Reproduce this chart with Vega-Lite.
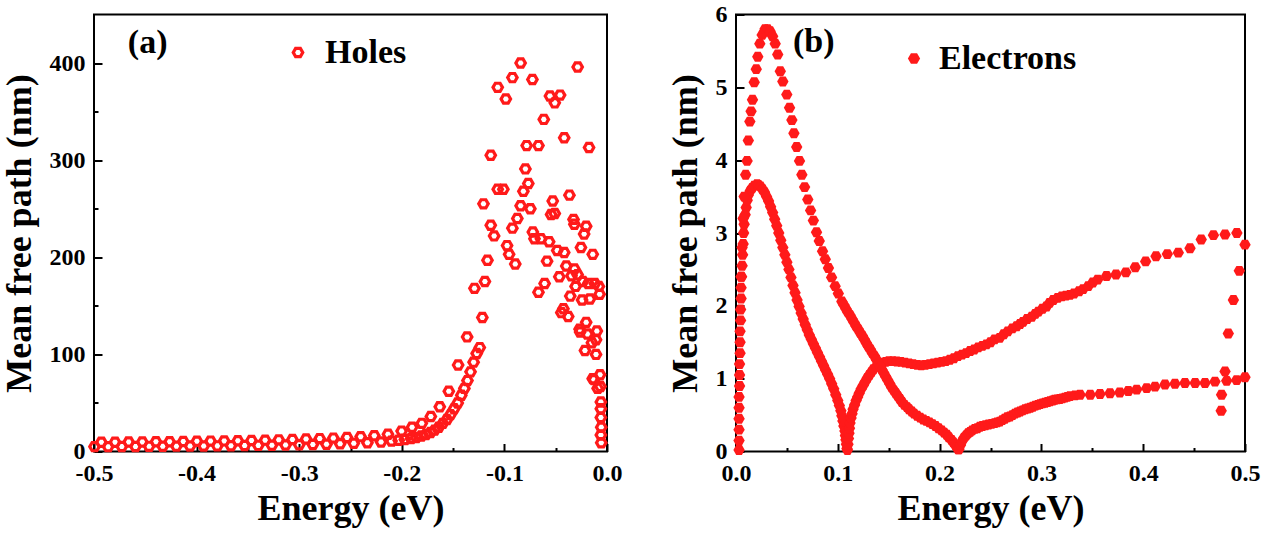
{
  "$schema": "https://vega.github.io/schema/vega-lite/v6.json",
  "padding": {"top": 1.5, "left": 0, "right": 0, "bottom": 0},
  "background": "white",
  "bounds": "flush",
  "spacing": 129,
  "config": {
    "view": {"stroke": "black", "strokeWidth": 2},
    "axis": {
      "domain": false, "grid": false, "tickColor": "black", "tickWidth": 2,
      "labelFont": "Liberation Serif", "labelFontWeight": "bold", "labelFontSize": 24, "labelColor": "black",
      "titleFont": "Liberation Serif", "titleFontWeight": "bold", "titleFontSize": 36, "titleColor": "black"
    },
    "legend": {
      "title": null, "orient": "none", "padding": 0,
      "labelFont": "Liberation Serif", "labelFontSize": 34, "labelFontWeight": "bold", "labelColor": "black"
    }
  },
  "resolve": {"scale": {"color": "independent"}, "legend": {"color": "independent"}},
  "datasets": {
    "holes": [
      {"E": -0.4928, "mfp": 9.5}, {"E": -0.4795, "mfp": 9.6}, {"E": -0.4662, "mfp": 9.7}, {"E": -0.4529, "mfp": 9.8},
      {"E": -0.4396, "mfp": 10}, {"E": -0.4263, "mfp": 10.1}, {"E": -0.413, "mfp": 10.3}, {"E": -0.3997, "mfp": 10.5},
      {"E": -0.3864, "mfp": 10.7}, {"E": -0.3731, "mfp": 10.9}, {"E": -0.3598, "mfp": 11.1}, {"E": -0.3465, "mfp": 11.4},
      {"E": -0.3332, "mfp": 11.7}, {"E": -0.3199, "mfp": 12}, {"E": -0.3066, "mfp": 12.4}, {"E": -0.2933, "mfp": 12.8},
      {"E": -0.28, "mfp": 13.3}, {"E": -0.2667, "mfp": 13.8}, {"E": -0.2534, "mfp": 14.5}, {"E": -0.2401, "mfp": 15.3},
      {"E": -0.2268, "mfp": 16.3}, {"E": -0.2135, "mfp": 17.8}, {"E": -0.2002, "mfp": 21}, {"E": -0.19, "mfp": 25},
      {"E": -0.1805, "mfp": 29}, {"E": -0.1717, "mfp": 36}, {"E": -0.163, "mfp": 46}, {"E": -0.1542, "mfp": 62},
      {"E": -0.1451, "mfp": 89}, {"E": -0.1363, "mfp": 118}, {"E": -0.1292, "mfp": 168}, {"E": -0.1204, "mfp": 255},
      {"E": -0.1133, "mfp": 305}, {"E": -0.1065, "mfp": 375},
      {"E": -0.4995, "mfp": 5}, {"E": -0.4862, "mfp": 5}, {"E": -0.4729, "mfp": 5.1}, {"E": -0.4596, "mfp": 5.2},
      {"E": -0.4463, "mfp": 5.3}, {"E": -0.433, "mfp": 5.4}, {"E": -0.4197, "mfp": 5.5}, {"E": -0.4064, "mfp": 5.6},
      {"E": -0.3931, "mfp": 5.7}, {"E": -0.3798, "mfp": 5.8}, {"E": -0.3665, "mfp": 6}, {"E": -0.3532, "mfp": 6.1},
      {"E": -0.3399, "mfp": 6.3}, {"E": -0.3266, "mfp": 6.5}, {"E": -0.3133, "mfp": 6.7}, {"E": -0.3, "mfp": 6.9},
      {"E": -0.2867, "mfp": 7.2}, {"E": -0.2734, "mfp": 7.5}, {"E": -0.2601, "mfp": 7.9}, {"E": -0.2468, "mfp": 8.4},
      {"E": -0.2335, "mfp": 9}, {"E": -0.2202, "mfp": 9.8}, {"E": -0.21, "mfp": 10.7}, {"E": -0.203, "mfp": 11.5},
      {"E": -0.197, "mfp": 12.3}, {"E": -0.191, "mfp": 13.3}, {"E": -0.186, "mfp": 14.5}, {"E": -0.181, "mfp": 16},
      {"E": -0.1765, "mfp": 17.5}, {"E": -0.172, "mfp": 19.5}, {"E": -0.168, "mfp": 22}, {"E": -0.164, "mfp": 25},
      {"E": -0.16, "mfp": 29}, {"E": -0.156, "mfp": 33}, {"E": -0.1525, "mfp": 38}, {"E": -0.149, "mfp": 44},
      {"E": -0.1455, "mfp": 50}, {"E": -0.142, "mfp": 58}, {"E": -0.139, "mfp": 65}, {"E": -0.136, "mfp": 73},
      {"E": -0.133, "mfp": 82}, {"E": -0.13, "mfp": 92}, {"E": -0.127, "mfp": 101}, {"E": -0.124, "mfp": 107},
      {"E": -0.1215, "mfp": 138}, {"E": -0.119, "mfp": 175}, {"E": -0.1165, "mfp": 197},
      {"E": -0.1133, "mfp": 233}, {"E": -0.11, "mfp": 222}, {"E": -0.1065, "mfp": 270}, {"E": -0.101, "mfp": 270},
      {"E": -0.0986, "mfp": 363}, {"E": -0.0974, "mfp": 212}, {"E": -0.0954, "mfp": 203}, {"E": -0.0922, "mfp": 385},
      {"E": -0.0922, "mfp": 230}, {"E": -0.0894, "mfp": 193}, {"E": -0.0874, "mfp": 240}, {"E": -0.0842, "mfp": 400},
      {"E": -0.0842, "mfp": 253}, {"E": -0.0815, "mfp": 268}, {"E": -0.0795, "mfp": 291}, {"E": -0.0783, "mfp": 315},
      {"E": -0.0767, "mfp": 276}, {"E": -0.0747, "mfp": 250}, {"E": -0.0727, "mfp": 383}, {"E": -0.0723, "mfp": 226},
      {"E": -0.0707, "mfp": 219}, {"E": -0.0668, "mfp": 315}, {"E": -0.0668, "mfp": 164}, {"E": -0.0644, "mfp": 219},
      {"E": -0.0616, "mfp": 342}, {"E": -0.0608, "mfp": 173}, {"E": -0.0584, "mfp": 196}, {"E": -0.0564, "mfp": 216},
      {"E": -0.0556, "mfp": 366}, {"E": -0.0545, "mfp": 244}, {"E": -0.0529, "mfp": 258}, {"E": -0.0509, "mfp": 359},
      {"E": -0.0509, "mfp": 245}, {"E": -0.0485, "mfp": 207}, {"E": -0.0465, "mfp": 180}, {"E": -0.0457, "mfp": 367},
      {"E": -0.0445, "mfp": 143}, {"E": -0.0425, "mfp": 147}, {"E": -0.0417, "mfp": 323}, {"E": -0.0417, "mfp": 205},
      {"E": -0.0397, "mfp": 191}, {"E": -0.0378, "mfp": 139}, {"E": -0.0366, "mfp": 264}, {"E": -0.0358, "mfp": 160},
      {"E": -0.0346, "mfp": 181}, {"E": -0.0326, "mfp": 239}, {"E": -0.0318, "mfp": 234}, {"E": -0.0318, "mfp": 188},
      {"E": -0.0306, "mfp": 170}, {"E": -0.0286, "mfp": 396}, {"E": -0.0286, "mfp": 182}, {"E": -0.0267, "mfp": 126},
      {"E": -0.0262, "mfp": 123}, {"E": -0.0254, "mfp": 210}, {"E": -0.0243, "mfp": 156}, {"E": -0.0235, "mfp": 175},
      {"E": -0.0223, "mfp": 224}, {"E": -0.0215, "mfp": 104}, {"E": -0.0203, "mfp": 133}, {"E": -0.0203, "mfp": 232},
      {"E": -0.0191, "mfp": 121}, {"E": -0.0183, "mfp": 173}, {"E": -0.0175, "mfp": 313}, {"E": -0.0167, "mfp": 157},
      {"E": -0.0147, "mfp": 112}, {"E": -0.0139, "mfp": 203}, {"E": -0.0139, "mfp": 75}, {"E": -0.0127, "mfp": 74},
      {"E": -0.0119, "mfp": 173}, {"E": -0.0107, "mfp": 115}, {"E": -0.0107, "mfp": 100}, {"E": -0.0099, "mfp": 124},
      {"E": -0.0091, "mfp": 65}, {"E": -0.0079, "mfp": 170}, {"E": -0.0072, "mfp": 162}, {"E": -0.0068, "mfp": 79},
      {"E": -0.0064, "mfp": 67}, {"E": -0.006, "mfp": 51}, {"E": -0.006, "mfp": 44}, {"E": -0.006, "mfp": 35},
      {"E": -0.006, "mfp": 17}, {"E": -0.0056, "mfp": 25}, {"E": -0.0056, "mfp": 9}
    ],
    "electrons": [
      {"E": 0.003, "mfp": 0.02}, {"E": 0.003, "mfp": 0.15}, {"E": 0.003, "mfp": 0.3}, {"E": 0.003, "mfp": 0.45},
      {"E": 0.003, "mfp": 0.6}, {"E": 0.003, "mfp": 0.75}, {"E": 0.0035, "mfp": 0.9}, {"E": 0.0035, "mfp": 1.05},
      {"E": 0.0035, "mfp": 1.2}, {"E": 0.004, "mfp": 1.35}, {"E": 0.004, "mfp": 1.5}, {"E": 0.004, "mfp": 1.65},
      {"E": 0.0045, "mfp": 1.8}, {"E": 0.0045, "mfp": 1.95}, {"E": 0.005, "mfp": 2.1}, {"E": 0.005, "mfp": 2.25},
      {"E": 0.0055, "mfp": 2.4}, {"E": 0.006, "mfp": 2.55}, {"E": 0.0065, "mfp": 2.7}, {"E": 0.007, "mfp": 2.85},
      {"E": 0.0075, "mfp": 3.0}, {"E": 0.008, "mfp": 3.12}, {"E": 0.009, "mfp": 3.25}, {"E": 0.01, "mfp": 3.35},
      {"E": 0.011, "mfp": 3.45}, {"E": 0.012, "mfp": 3.52}, {"E": 0.014, "mfp": 3.58}, {"E": 0.016, "mfp": 3.62},
      {"E": 0.018, "mfp": 3.65}, {"E": 0.0207, "mfp": 3.67},
      {"E": 0.022, "mfp": 3.66}, {"E": 0.024, "mfp": 3.64}, {"E": 0.026, "mfp": 3.6}, {"E": 0.028, "mfp": 3.56},
      {"E": 0.03, "mfp": 3.5}, {"E": 0.032, "mfp": 3.44}, {"E": 0.034, "mfp": 3.36}, {"E": 0.036, "mfp": 3.28},
      {"E": 0.038, "mfp": 3.19}, {"E": 0.04, "mfp": 3.1}, {"E": 0.042, "mfp": 3.0}, {"E": 0.044, "mfp": 2.9},
      {"E": 0.046, "mfp": 2.8}, {"E": 0.048, "mfp": 2.7}, {"E": 0.05, "mfp": 2.6}, {"E": 0.052, "mfp": 2.5},
      {"E": 0.054, "mfp": 2.39}, {"E": 0.056, "mfp": 2.28}, {"E": 0.058, "mfp": 2.18}, {"E": 0.06, "mfp": 2.08},
      {"E": 0.062, "mfp": 1.99}, {"E": 0.064, "mfp": 1.9}, {"E": 0.066, "mfp": 1.82}, {"E": 0.068, "mfp": 1.74},
      {"E": 0.07, "mfp": 1.67}, {"E": 0.072, "mfp": 1.6}, {"E": 0.074, "mfp": 1.54}, {"E": 0.076, "mfp": 1.48},
      {"E": 0.078, "mfp": 1.42}, {"E": 0.08, "mfp": 1.36}, {"E": 0.082, "mfp": 1.3}, {"E": 0.084, "mfp": 1.24},
      {"E": 0.086, "mfp": 1.18}, {"E": 0.088, "mfp": 1.12}, {"E": 0.09, "mfp": 1.06}, {"E": 0.092, "mfp": 1.0},
      {"E": 0.094, "mfp": 0.93}, {"E": 0.096, "mfp": 0.86}, {"E": 0.098, "mfp": 0.78}, {"E": 0.1, "mfp": 0.7},
      {"E": 0.1015, "mfp": 0.63}, {"E": 0.103, "mfp": 0.56}, {"E": 0.104, "mfp": 0.49}, {"E": 0.105, "mfp": 0.42},
      {"E": 0.106, "mfp": 0.35}, {"E": 0.107, "mfp": 0.28}, {"E": 0.1075, "mfp": 0.22}, {"E": 0.108, "mfp": 0.16},
      {"E": 0.1085, "mfp": 0.1}, {"E": 0.109, "mfp": 0.04},
      {"E": 0.1095, "mfp": 0.02}, {"E": 0.11, "mfp": 0.1}, {"E": 0.1105, "mfp": 0.18}, {"E": 0.111, "mfp": 0.25},
      {"E": 0.1115, "mfp": 0.32}, {"E": 0.112, "mfp": 0.39}, {"E": 0.113, "mfp": 0.46}, {"E": 0.114, "mfp": 0.52},
      {"E": 0.115, "mfp": 0.58}, {"E": 0.1165, "mfp": 0.64}, {"E": 0.118, "mfp": 0.7}, {"E": 0.1195, "mfp": 0.75},
      {"E": 0.121, "mfp": 0.8}, {"E": 0.123, "mfp": 0.86}, {"E": 0.125, "mfp": 0.91}, {"E": 0.127, "mfp": 0.96},
      {"E": 0.129, "mfp": 1.01}, {"E": 0.131, "mfp": 1.05}, {"E": 0.133, "mfp": 1.09}, {"E": 0.135, "mfp": 1.13},
      {"E": 0.138, "mfp": 1.17}, {"E": 0.141, "mfp": 1.2}, {"E": 0.144, "mfp": 1.22}, {"E": 0.147, "mfp": 1.23},
      {"E": 0.15, "mfp": 1.24}, {"E": 0.154, "mfp": 1.24}, {"E": 0.158, "mfp": 1.235}, {"E": 0.162, "mfp": 1.23},
      {"E": 0.166, "mfp": 1.22}, {"E": 0.17, "mfp": 1.21}, {"E": 0.174, "mfp": 1.2}, {"E": 0.178, "mfp": 1.19},
      {"E": 0.182, "mfp": 1.185}, {"E": 0.186, "mfp": 1.19}, {"E": 0.19, "mfp": 1.2}, {"E": 0.194, "mfp": 1.21},
      {"E": 0.198, "mfp": 1.22}, {"E": 0.202, "mfp": 1.23}, {"E": 0.206, "mfp": 1.24}, {"E": 0.21, "mfp": 1.26},
      {"E": 0.214, "mfp": 1.28}, {"E": 0.218, "mfp": 1.31}, {"E": 0.222, "mfp": 1.33}, {"E": 0.226, "mfp": 1.35},
      {"E": 0.23, "mfp": 1.38}, {"E": 0.234, "mfp": 1.4}, {"E": 0.238, "mfp": 1.43}, {"E": 0.242, "mfp": 1.45},
      {"E": 0.246, "mfp": 1.47}, {"E": 0.25, "mfp": 1.5}, {"E": 0.254, "mfp": 1.54}, {"E": 0.259, "mfp": 1.56},
      {"E": 0.263, "mfp": 1.61}, {"E": 0.267, "mfp": 1.65}, {"E": 0.2715, "mfp": 1.69}, {"E": 0.2757, "mfp": 1.72},
      {"E": 0.279, "mfp": 1.75}, {"E": 0.282, "mfp": 1.78}, {"E": 0.286, "mfp": 1.82}, {"E": 0.2905, "mfp": 1.85},
      {"E": 0.294, "mfp": 1.89}, {"E": 0.297, "mfp": 1.92}, {"E": 0.301, "mfp": 1.96}, {"E": 0.305, "mfp": 1.99},
      {"E": 0.308, "mfp": 2.04}, {"E": 0.3117, "mfp": 2.08}, {"E": 0.316, "mfp": 2.11}, {"E": 0.32, "mfp": 2.13},
      {"E": 0.324, "mfp": 2.14}, {"E": 0.328, "mfp": 2.15}, {"E": 0.332, "mfp": 2.17}, {"E": 0.337, "mfp": 2.2},
      {"E": 0.341, "mfp": 2.23}, {"E": 0.346, "mfp": 2.27}, {"E": 0.3505, "mfp": 2.32}, {"E": 0.3553, "mfp": 2.36},
      {"E": 0.364, "mfp": 2.41}, {"E": 0.3733, "mfp": 2.43}, {"E": 0.383, "mfp": 2.46}, {"E": 0.3922, "mfp": 2.53},
      {"E": 0.4024, "mfp": 2.61}, {"E": 0.4126, "mfp": 2.68}, {"E": 0.4237, "mfp": 2.71}, {"E": 0.4345, "mfp": 2.73},
      {"E": 0.446, "mfp": 2.79}, {"E": 0.457, "mfp": 2.91}, {"E": 0.469, "mfp": 2.97}, {"E": 0.4804, "mfp": 2.98},
      {"E": 0.492, "mfp": 3.0}, {"E": 0.5, "mfp": 2.84},
      {"E": 0.4944, "mfp": 2.48}, {"E": 0.4886, "mfp": 2.08}, {"E": 0.4836, "mfp": 1.62}, {"E": 0.4804, "mfp": 1.1},
      {"E": 0.482, "mfp": 0.97}, {"E": 0.477, "mfp": 0.78}, {"E": 0.4766, "mfp": 0.56},
      {"E": 0.005, "mfp": 2.4}, {"E": 0.006, "mfp": 2.8}, {"E": 0.007, "mfp": 3.2}, {"E": 0.008, "mfp": 3.5},
      {"E": 0.0095, "mfp": 3.8}, {"E": 0.0109, "mfp": 3.99}, {"E": 0.0121, "mfp": 4.27}, {"E": 0.0136, "mfp": 4.53},
      {"E": 0.0148, "mfp": 4.67}, {"E": 0.0162, "mfp": 4.83}, {"E": 0.0179, "mfp": 5.07}, {"E": 0.0199, "mfp": 5.25},
      {"E": 0.0214, "mfp": 5.42}, {"E": 0.0234, "mfp": 5.6}, {"E": 0.0257, "mfp": 5.72}, {"E": 0.0285, "mfp": 5.8},
      {"E": 0.031, "mfp": 5.8}, {"E": 0.0335, "mfp": 5.77}, {"E": 0.036, "mfp": 5.7}, {"E": 0.0385, "mfp": 5.6},
      {"E": 0.041, "mfp": 5.45}, {"E": 0.0435, "mfp": 5.22}, {"E": 0.046, "mfp": 5.08}, {"E": 0.0499, "mfp": 4.9},
      {"E": 0.0526, "mfp": 4.72}, {"E": 0.0549, "mfp": 4.55}, {"E": 0.0569, "mfp": 4.37}, {"E": 0.0596, "mfp": 4.18},
      {"E": 0.0624, "mfp": 3.99}, {"E": 0.0647, "mfp": 3.8}, {"E": 0.0674, "mfp": 3.63}, {"E": 0.0705, "mfp": 3.46},
      {"E": 0.0733, "mfp": 3.31}, {"E": 0.076, "mfp": 3.17}, {"E": 0.0791, "mfp": 3.01}, {"E": 0.0818, "mfp": 2.89},
      {"E": 0.085, "mfp": 2.75}, {"E": 0.0877, "mfp": 2.64}, {"E": 0.0908, "mfp": 2.52}, {"E": 0.0939, "mfp": 2.39},
      {"E": 0.0974, "mfp": 2.27}, {"E": 0.1005, "mfp": 2.17}, {"E": 0.104, "mfp": 2.06}, {"E": 0.106, "mfp": 2.01},
      {"E": 0.108, "mfp": 1.96}, {"E": 0.11, "mfp": 1.91}, {"E": 0.112, "mfp": 1.87}, {"E": 0.114, "mfp": 1.82},
      {"E": 0.116, "mfp": 1.77}, {"E": 0.118, "mfp": 1.72}, {"E": 0.12, "mfp": 1.68}, {"E": 0.122, "mfp": 1.63},
      {"E": 0.124, "mfp": 1.59}, {"E": 0.126, "mfp": 1.54}, {"E": 0.128, "mfp": 1.49}, {"E": 0.13, "mfp": 1.44},
      {"E": 0.132, "mfp": 1.4}, {"E": 0.134, "mfp": 1.35}, {"E": 0.136, "mfp": 1.31}, {"E": 0.138, "mfp": 1.26},
      {"E": 0.14, "mfp": 1.21}, {"E": 0.142, "mfp": 1.16}, {"E": 0.1435, "mfp": 1.12}, {"E": 0.145, "mfp": 1.08},
      {"E": 0.147, "mfp": 1.03}, {"E": 0.149, "mfp": 0.98}, {"E": 0.151, "mfp": 0.93}, {"E": 0.153, "mfp": 0.88},
      {"E": 0.155, "mfp": 0.84}, {"E": 0.157, "mfp": 0.8}, {"E": 0.159, "mfp": 0.76}, {"E": 0.161, "mfp": 0.72},
      {"E": 0.163, "mfp": 0.68}, {"E": 0.1655, "mfp": 0.64}, {"E": 0.168, "mfp": 0.61}, {"E": 0.17, "mfp": 0.58},
      {"E": 0.1726, "mfp": 0.55}, {"E": 0.175, "mfp": 0.52}, {"E": 0.178, "mfp": 0.49}, {"E": 0.181, "mfp": 0.465},
      {"E": 0.184, "mfp": 0.44}, {"E": 0.187, "mfp": 0.42}, {"E": 0.19, "mfp": 0.4}, {"E": 0.193, "mfp": 0.375},
      {"E": 0.196, "mfp": 0.35}, {"E": 0.199, "mfp": 0.32}, {"E": 0.202, "mfp": 0.29}, {"E": 0.2045, "mfp": 0.26},
      {"E": 0.207, "mfp": 0.23}, {"E": 0.209, "mfp": 0.195}, {"E": 0.2116, "mfp": 0.16}, {"E": 0.2135, "mfp": 0.125},
      {"E": 0.2155, "mfp": 0.09}, {"E": 0.217, "mfp": 0.06}, {"E": 0.2182, "mfp": 0.03},
      {"E": 0.219, "mfp": 0.03}, {"E": 0.2205, "mfp": 0.09}, {"E": 0.222, "mfp": 0.14}, {"E": 0.224, "mfp": 0.19},
      {"E": 0.226, "mfp": 0.22}, {"E": 0.228, "mfp": 0.25}, {"E": 0.23, "mfp": 0.27}, {"E": 0.232, "mfp": 0.29},
      {"E": 0.2345, "mfp": 0.31}, {"E": 0.237, "mfp": 0.32}, {"E": 0.2395, "mfp": 0.34}, {"E": 0.242, "mfp": 0.35},
      {"E": 0.245, "mfp": 0.36}, {"E": 0.248, "mfp": 0.37}, {"E": 0.251, "mfp": 0.38}, {"E": 0.254, "mfp": 0.39},
      {"E": 0.2565, "mfp": 0.4}, {"E": 0.259, "mfp": 0.41}, {"E": 0.2615, "mfp": 0.43}, {"E": 0.264, "mfp": 0.45},
      {"E": 0.2665, "mfp": 0.47}, {"E": 0.269, "mfp": 0.48}, {"E": 0.2715, "mfp": 0.5}, {"E": 0.274, "mfp": 0.52},
      {"E": 0.2765, "mfp": 0.535}, {"E": 0.279, "mfp": 0.55}, {"E": 0.2815, "mfp": 0.565}, {"E": 0.284, "mfp": 0.58},
      {"E": 0.2865, "mfp": 0.59}, {"E": 0.289, "mfp": 0.6}, {"E": 0.2915, "mfp": 0.615}, {"E": 0.294, "mfp": 0.63},
      {"E": 0.2965, "mfp": 0.64}, {"E": 0.2986, "mfp": 0.65}, {"E": 0.301, "mfp": 0.66}, {"E": 0.3035, "mfp": 0.67},
      {"E": 0.306, "mfp": 0.68}, {"E": 0.3084, "mfp": 0.69}, {"E": 0.311, "mfp": 0.7}, {"E": 0.313, "mfp": 0.71},
      {"E": 0.3155, "mfp": 0.715}, {"E": 0.318, "mfp": 0.72}, {"E": 0.3205, "mfp": 0.73}, {"E": 0.323, "mfp": 0.74},
      {"E": 0.3255, "mfp": 0.75}, {"E": 0.328, "mfp": 0.76}, {"E": 0.333, "mfp": 0.77}, {"E": 0.338, "mfp": 0.78},
      {"E": 0.348, "mfp": 0.78}, {"E": 0.3576, "mfp": 0.79}, {"E": 0.3674, "mfp": 0.8}, {"E": 0.377, "mfp": 0.81},
      {"E": 0.3854, "mfp": 0.83}, {"E": 0.3936, "mfp": 0.85}, {"E": 0.4034, "mfp": 0.87}, {"E": 0.4116, "mfp": 0.89},
      {"E": 0.4214, "mfp": 0.92}, {"E": 0.4312, "mfp": 0.93}, {"E": 0.441, "mfp": 0.94}, {"E": 0.451, "mfp": 0.94},
      {"E": 0.4607, "mfp": 0.94}, {"E": 0.4705, "mfp": 0.96}, {"E": 0.4918, "mfp": 0.98}, {"E": 0.5, "mfp": 1.02}
    ]
  },
  "hconcat": [
    {
      "width": 513,
      "height": 437,
      "layer": [
        {
          "data": {"name": "holes"},
          "mark": {"type": "point", "shape": "M-1,0L-0.5,-0.866L0.5,-0.866L1,0L0.5,0.866L-0.5,0.866Z", "filled": false, "strokeWidth": 3.2, "size": 90, "opacity": 1},
          "encoding": {
            "x": {
              "field": "E", "type": "quantitative",
              "scale": {"domain": [-0.5, 0], "nice": false, "zero": false},
              "axis": {
                "title": "Energy (eV)",
                "values": [-0.5, -0.45, -0.4, -0.35, -0.3, -0.25, -0.2, -0.15, -0.1, -0.05, 0],
                "labelExpr": "abs(datum.value*10 - round(datum.value*10)) < 0.001 ? replace(format(datum.value, '.1f'), '\u2212', '-') : ''",
                "tickSize": {"condition": {"test": "abs(datum.value*10 - round(datum.value*10)) < 0.001", "value": -8}, "value": -4},
                "labelPadding": 18, "titlePadding": 6, "labelFlush": false
              }
            },
            "y": {
              "field": "mfp", "type": "quantitative",
              "scale": {"domain": [0, 450], "nice": false},
              "axis": {
                "title": "Mean free path (nm)",
                "values": [0, 50, 100, 150, 200, 250, 300, 350, 400],
                "labelExpr": "datum.value % 100 == 0 ? format(datum.value, 'd') : ''",
                "tickSize": {"condition": {"test": "datum.value % 100 == 0", "value": -8}, "value": -4},
                "labelPadding": 17, "titlePadding": 11
              }
            },
            "color": {
              "datum": "Holes",
              "scale": {"range": ["#ff1a1a"]},
              "legend": {
                "legendX": 187, "legendY": 21,
                "symbolType": "M-1,0L-0.5,-0.866L0.5,-0.866L1,0L0.5,0.866L-0.5,0.866Z",
                "symbolSize": 90, "symbolStrokeWidth": 3.2, "symbolFillColor": "white", "labelOffset": 10
              }
            }
          }
        },
        {
          "data": {"values": [{"E": -0.467, "mfp": 410, "label": "(a)"}]},
          "mark": {"type": "text", "align": "left", "baseline": "alphabetic", "font": "Liberation Serif", "fontWeight": "bold", "fontSize": 34, "color": "black"},
          "encoding": {
            "x": {"field": "E", "type": "quantitative"},
            "y": {"field": "mfp", "type": "quantitative"},
            "text": {"field": "label"}
          }
        }
      ]
    },
    {
      "width": 509,
      "height": 437,
      "layer": [
        {
          "data": {"name": "electrons"},
          "mark": {"type": "point", "shape": "M-1,0L-0.5,-0.866L0.5,-0.866L1,0L0.5,0.866L-0.5,0.866Z", "filled": true, "size": 130, "opacity": 1},
          "encoding": {
            "x": {
              "field": "E", "type": "quantitative",
              "scale": {"domain": [0, 0.5], "nice": false, "zero": false},
              "axis": {
                "title": "Energy (eV)",
                "values": [0, 0.05, 0.1, 0.15, 0.2, 0.25, 0.3, 0.35, 0.4, 0.45, 0.5],
                "labelExpr": "abs(datum.value*10 - round(datum.value*10)) < 0.001 ? format(datum.value, '.1f') : ''",
                "tickSize": {"condition": {"test": "abs(datum.value*10 - round(datum.value*10)) < 0.001", "value": -8}, "value": -4},
                "labelPadding": 18, "titlePadding": 6, "labelFlush": false
              }
            },
            "y": {
              "field": "mfp", "type": "quantitative",
              "scale": {"domain": [0, 6], "nice": false},
              "axis": {
                "title": "Mean free path (nm)",
                "values": [0, 0.5, 1, 1.5, 2, 2.5, 3, 3.5, 4, 4.5, 5, 5.5, 6],
                "labelExpr": "datum.value % 1 == 0 ? format(datum.value, 'd') : ''",
                "tickSize": {"condition": {"test": "datum.value % 1 == 0", "value": -8}, "value": -4},
                "labelPadding": 17, "titlePadding": 11
              }
            },
            "color": {
              "datum": "Electrons",
              "scale": {"range": ["#ff1a1a"]},
              "legend": {
                "legendX": 161, "legendY": 27,
                "symbolType": "M-1,0L-0.5,-0.866L0.5,-0.866L1,0L0.5,0.866L-0.5,0.866Z",
                "symbolSize": 150, "labelOffset": 8
              }
            }
          }
        },
        {
          "data": {"values": [{"E": 0.056, "mfp": 5.49, "label": "(b)"}]},
          "mark": {"type": "text", "align": "left", "baseline": "alphabetic", "font": "Liberation Serif", "fontWeight": "bold", "fontSize": 34, "color": "black"},
          "encoding": {
            "x": {"field": "E", "type": "quantitative"},
            "y": {"field": "mfp", "type": "quantitative"},
            "text": {"field": "label"}
          }
        }
      ]
    }
  ]
}
